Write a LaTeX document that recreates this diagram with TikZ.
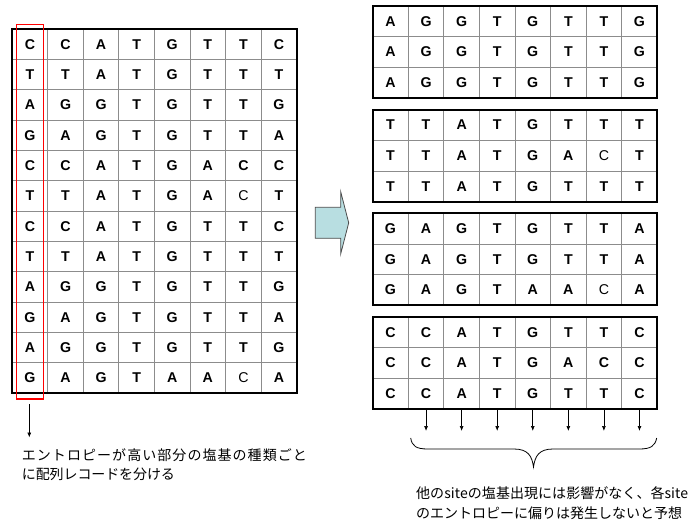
\documentclass[tikz,border=0pt]{standalone}
\usepackage{fontspec}
\setmainfont{Liberation Sans}
\newfontfamily\jpfont{Noto Sans CJK JP}
\usetikzlibrary{arrows.meta}
\definecolor{arrowfill}{RGB}{184,222,225}
\def\selch#1{\if c#1\textmd{C}\else#1\fi}
\newcommand\seqrow[4]{% #1 name, #2 x0, #3 y centre, #4 letters (macro)
  \foreach \ch [count=\i] in #4{\node[base] (#1-\i) at ({#2+(\i-0.5)*35.57},{#3}) {\selch\ch};}}
% set a line of characters to a given width (spreading the characters evenly)
\def\spreadto#1#2{\hbox to #1{\spreadfirst#2\relax}}
\def\spreadfirst#1{#1\spreadrest}
\def\spreadrest#1{\ifx#1\relax\else\hskip 0pt plus 1fil minus 3pt#1\expandafter\spreadrest\fi}
\begin{document}
\begin{tikzpicture}[x=1pt,y=-1pt,
  base/.style={inner sep=0pt,font=\fontsize{14.2}{15}\selectfont\bfseries},
  gridline/.style={draw=black!45,line width=0.9pt},
  outer/.style={draw=black,line width=2pt},
  selbox/.style={draw=red,line width=1.2pt,inner sep=0pt,minimum width=27pt,minimum height=374.3pt},
  thinarrow/.style={draw=black,line width=0.7pt,-{Latex[length=5pt,width=4pt]}},
  jptext/.style={inner sep=0pt,anchor=base west,font=\jpfont\fontsize{14}{19}\selectfont},
  bigarrow/.style={draw=black!70,line width=0.8pt,fill=arrowfill}
]
\useasboundingbox (0,0) rectangle (689,523);
% ---------- left table ----------
\def\Lx{12.2}\def\Ly{29.3}\def\Lh{30.3}
\foreach \k in {1,...,7} \draw[gridline] ({\Lx+\k*35.57},\Ly) -- ({\Lx+\k*35.57},{\Ly+12*\Lh});
\foreach \k in {1,...,11} \draw[gridline] (\Lx,{\Ly+\k*\Lh}) -- ({\Lx+8*35.57},{\Ly+\k*\Lh});
\draw[outer] (\Lx,\Ly) rectangle ({\Lx+8*35.57},{\Ly+12*\Lh});
\foreach \r/\s in {1/{C,C,A,T,G,T,T,C},2/{T,T,A,T,G,T,T,T},3/{A,G,G,T,G,T,T,G},4/{G,A,G,T,G,T,T,A},
  5/{C,C,A,T,G,A,C,C},6/{T,T,A,T,G,A,c,T},7/{C,C,A,T,G,T,T,C},8/{T,T,A,T,G,T,T,T},
  9/{A,G,G,T,G,T,T,G},10/{G,A,G,T,G,T,T,A},11/{A,G,G,T,G,T,T,G},12/{G,A,G,T,A,A,c,A}}
  {\seqrow{L\r}{\Lx}{\Ly+(\r-0.5)*\Lh}{\s}}
\node[selbox] (sel) at (30.2,211.85) {};
\coordinate (selA) at (29.3,404);
\coordinate (selB) at (29.3,437.5);
\draw[thinarrow] (selA) -- (selB);
\node[jptext] (t1) at (21.7,460.5) {\spreadto{285pt}{エントロピーが高い部分の塩基の種類ごと}};
\node[jptext] (t2) at (21.7,479.5) {\spreadto{153pt}{に配列レコードを分ける}};
% ---------- block arrow ----------
\draw[bigarrow] (315.3,207.3) -- (340.7,207.3) -- (340.7,191.7) -- (348.7,222.8)
  -- (340.7,253.9) -- (340.7,238.3) -- (315.3,238.3) -- cycle;
% ---------- right blocks ----------
\def\Rx{372.7}\def\Rh{30.67}
\foreach \b/\top/\ra/\rb/\rc in {A/6/{A,G,G,T,G,T,T,G}/{A,G,G,T,G,T,T,G}/{A,G,G,T,G,T,T,G},
  T/109.7/{T,T,A,T,G,T,T,T}/{T,T,A,T,G,A,c,T}/{T,T,A,T,G,T,T,T},
  G/213.3/{G,A,G,T,G,T,T,A}/{G,A,G,T,G,T,T,A}/{G,A,G,T,A,A,c,A},
  C/317/{C,C,A,T,G,T,T,C}/{C,C,A,T,G,A,C,C}/{C,C,A,T,G,T,T,C}}{
  \foreach \k in {1,...,7} \draw[gridline] ({\Rx+\k*35.57},\top) -- ({\Rx+\k*35.57},{\top+3*\Rh});
  \foreach \k in {1,2} \draw[gridline] (\Rx,{\top+\k*\Rh}) -- ({\Rx+8*35.57},{\top+\k*\Rh});
  \draw[outer] (\Rx,\top) rectangle ({\Rx+8*35.57},{\top+3*\Rh});
  \seqrow{\b1}{\Rx}{\top+0.5*\Rh}{\ra}
  \seqrow{\b2}{\Rx}{\top+1.5*\Rh}{\rb}
  \seqrow{\b3}{\Rx}{\top+2.5*\Rh}{\rc}
}
\foreach \k in {2,...,8}{
  \coordinate (s\k) at ({\Rx+(\k-0.5)*35.57},410);
  \coordinate (e\k) at ({\Rx+(\k-0.5)*35.57},431);
  \draw[thinarrow] (s\k) -- (e\k);
}
% brace
\draw[line width=0.8pt] (410.7,438) .. controls (412,446) and (416,449) .. (428,449)
  -- (514,449) .. controls (528,449) and (532,456) .. (533.5,467)
  .. controls (535,456) and (539,449) .. (553,449)
  -- (639,449) .. controls (651,449) and (655,446) .. (656.7,438);
\node[jptext] (t3) at (416,498.5) {\spreadto{272pt}{他のsiteの塩基出現には影響がなく、各site}};
\node[jptext] (t4) at (416,518) {のエントロピーに偏りは発生しないと予想};
\end{tikzpicture}
\end{document}
